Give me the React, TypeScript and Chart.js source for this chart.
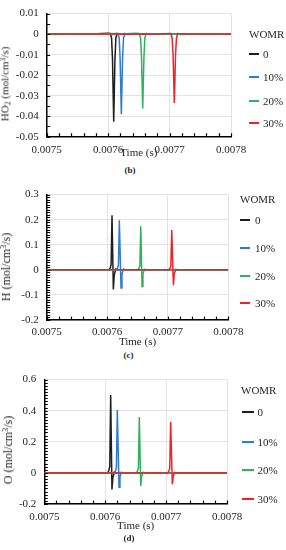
import React, { useEffect, useRef } from "react";
import { Chart, registerables } from "chart.js";

Chart.register(...registerables);

// ---------- data ----------
const SERIES_LABELS = ["0", "10%", "20%", "30%"];
const SERIES_COLORS = ["#1e1e1e", "#2f7bd0", "#2eb25b", "#ee2328"];

const X_TICKS = [0.0075, 0.0076, 0.0077, 0.0078];
const X_TICK_LABELS = ["0.0075", "0.0076", "0.0077", "0.0078"];

// (b) HO2
const HO2_TICKS = [0.01, 0, -0.01, -0.02, -0.03, -0.04, -0.05];
const HO2_TICK_LABELS = ["0.01", "0", "-0.01", "-0.02", "-0.03", "-0.04", "-0.05"];
const TIME_HO2_0 = [0.0075, 0.00757, 0.0076, 0.0076036, 0.0076056, 0.0076071, 0.0076091, 0.0076111, 0.0076126, 0.0076146, 0.007618, 0.0078];
const HO2_0 = [0, 0.0001, 0.0004, 0.0003, -0.002, -0.012, -0.0427, -0.012, -0.002, 0.0003, 0, 0];
const TIME_HO2_10 = [0.0075, 0.00759, 0.007614, 0.007616, 0.007618, 0.0076195, 0.0076215, 0.0076235, 0.007625, 0.007627, 0.00763, 0.0078];
const HO2_10 = [0, 0, 0.0003, 0.0003, -0.002, -0.012, -0.039, -0.012, -0.002, 0.0003, 0, 0];
const TIME_HO2_20 = [0.0075, 0.00762, 0.007645, 0.0076508, 0.0076528, 0.0076543, 0.0076563, 0.0076583, 0.0076598, 0.0076618, 0.007668, 0.0078];
const HO2_20 = [0, 0, 0.0004, 0.0003, -0.002, -0.011, -0.0363, -0.011, -0.002, 0.0004, 0, 0];
const TIME_HO2_30 = [0.0075, 0.00768, 0.0077, 0.0077022, 0.0077042, 0.0077057, 0.0077077, 0.0077097, 0.0077112, 0.0077132, 0.007716, 0.0078];
const HO2_30 = [0, 0, 0.0003, 0.0003, -0.002, -0.01, -0.0336, -0.01, -0.002, 0.0003, 0, 0];

// (c) H
const H_TICKS = [0.3, 0.2, 0.1, 0, -0.1, -0.2];
const H_TICK_LABELS = ["0.3", "0.2", "0.1", "0", "-0.1", "-0.2"];
const TIME_H_0 = [0.0075, 0.0076029, 0.0076049, 0.0076064, 0.0076079, 0.0076101, 0.0076116, 0.0076141, 0.0076171, 0.0078];
const H_0 = [0, 0, 0.008, 0.02, 0.218, -0.078, -0.02, 0.003, 0, 0];
const TIME_H_10 = [0.0075, 0.007615, 0.007617, 0.0076185, 0.00762, 0.0076228, 0.0076243, 0.0076268, 0.0076298, 0.0078];
const H_10 = [0, 0, 0.007, 0.018, 0.198, -0.072, -0.018, 0.003, 0, 0];
const TIME_H_20 = [0.0075, 0.0076504, 0.0076524, 0.0076539, 0.0076554, 0.0076575, 0.007659, 0.0076615, 0.0076645, 0.0078];
const H_20 = [0, 0, 0.006, 0.016, 0.174, -0.066, -0.016, 0.002, 0, 0];
const TIME_H_30 = [0.0075, 0.0077016, 0.0077036, 0.0077051, 0.0077066, 0.0077093, 0.0077108, 0.0077133, 0.0077163, 0.0078];
const H_30 = [0, 0, 0.006, 0.015, 0.159, -0.061, -0.015, 0.002, 0, 0];

// (d) O
const O_TICKS = [0.6, 0.4, 0.2, 0, -0.2];
const O_TICK_LABELS = ["0.6", "0.4", "0.2", "0", "-0.2"];
const TIME_O_0 = [0.0075, 0.007604, 0.007606, 0.0076075, 0.007609, 0.0076111, 0.0076126, 0.0076151, 0.0076181, 0.0078];
const O_0 = [0, 0, 0.015, 0.04, 0.501, -0.107, -0.03, 0.005, 0, 0];
const TIME_O_10 = [0.0075, 0.0076149, 0.0076169, 0.0076184, 0.0076199, 0.0076227, 0.0076242, 0.0076267, 0.0076297, 0.0078];
const O_10 = [0, 0, 0.013, 0.035, 0.405, -0.093, -0.026, 0.004, 0, 0];
const TIME_O_20 = [0.0075, 0.007651, 0.007653, 0.0076545, 0.007656, 0.0076583, 0.0076598, 0.0076623, 0.0076653, 0.0078];
const O_20 = [0, 0, 0.012, 0.032, 0.359, -0.083, -0.024, 0.004, 0, 0];
const TIME_O_30 = [0.0075, 0.0077025, 0.0077045, 0.007706, 0.0077075, 0.0077102, 0.0077117, 0.0077142, 0.0077172, 0.0078];
const O_30 = [0, 0, 0.011, 0.03, 0.328, -0.073, -0.022, 0.003, 0, 0];

// ---------- styling / layout ----------
const FONT = '"Liberation Serif", "Times New Roman", serif';
const TEXT = "#262626";

const SUB = { fontSize: "70%", verticalAlign: "-0.25em" };
const SUP = { fontSize: "70%", verticalAlign: "0.45em" };

const PANELS = [
  {
    key: "b",
    times: [TIME_HO2_0, TIME_HO2_10, TIME_HO2_20, TIME_HO2_30],
    values: [HO2_0, HO2_10, HO2_20, HO2_30],
    yTicks: HO2_TICKS, yLabels: HO2_TICK_LABELS, yMin: -0.05, yMax: 0.01, yStep: 0.005,
    yTitle: <>HO<sub style={SUB}>2</sub> (mol/cm<sup style={SUP}>3</sup>/s)</>,
    yTitleX: 6, yTitleY: 83.5, yTitleSize: 11,
    canvasTop: -1, canvasH: 161, xHeight: 23.3, yWidth: 46.7, padRight: 55, xTickPad: 6.5, xTitlePad: 0,
    caption: "(b)", capX: 130, capY: 170,
    legTitleX: 249, legTitleY: 34.3, lineX: 249, lineW: 10, textX: 263, itemYs: [54, 77, 101, 123],
  },
  {
    key: "c",
    times: [TIME_H_0, TIME_H_10, TIME_H_20, TIME_H_30],
    values: [H_0, H_10, H_20, H_30],
    yTicks: H_TICKS, yLabels: H_TICK_LABELS, yMin: -0.2, yMax: 0.3, yStep: 0.01,
    yTitle: <>H (mol/cm<sup style={SUP}>3</sup>/s)</>,
    yTitleX: 6, yTitleY: 266.5, yTitleSize: 12,
    canvasTop: 180, canvasH: 169, xHeight: 29, yWidth: 46.7, padRight: 57.7, xTickPad: 5.5, xTitlePad: 0,
    caption: "(c)", capX: 128.5, capY: 354.5,
    legTitleX: 240, legTitleY: 199.3, lineX: 240, lineW: 10, textX: 255, itemYs: [220, 248, 276, 303],
  },
  {
    key: "d",
    times: [TIME_O_0, TIME_O_10, TIME_O_20, TIME_O_30],
    values: [O_0, O_10, O_20, O_30],
    yTicks: O_TICKS, yLabels: O_TICK_LABELS, yMin: -0.2, yMax: 0.6, yStep: 0.02,
    yTitle: <>O (mol/cm<sup style={SUP}>3</sup>/s)</>,
    yTitleX: 8.3, yTitleY: 450, yTitleSize: 12,
    canvasTop: 365, canvasH: 168, xHeight: 29, yWidth: 44.3, padRight: 59, xTickPad: 6.5, xTitlePad: 0,
    caption: "(d)", capX: 129, capY: 538,
    legTitleX: 241, legTitleY: 390, lineX: 242, lineW: 12, textX: 257.5, itemYs: [412, 442, 470, 499],
  },
];

const findMajor = (v: number, majors: number[]) =>
  majors.findIndex((m) => Math.abs(m - v) < 1e-9);

// inward tick marks drawn at each scale tick
const innerTicks = {
  id: "innerTicks",
  afterDraw(chart: any) {
    const { ctx, chartArea } = chart;
    const xs = chart.scales.x;
    const ys = chart.scales.y;
    ctx.save();
    ctx.strokeStyle = "#000";
    ctx.lineWidth = 1.2;
    ctx.beginPath();
    xs.ticks.forEach((t: any) => {
      const px = Math.round(xs.getPixelForValue(t.value)) + 0.5;
      ctx.moveTo(px, chartArea.bottom);
      ctx.lineTo(px, chartArea.bottom - 3.5);
    });
    ys.ticks.forEach((t: any) => {
      const py = Math.round(ys.getPixelForValue(t.value)) + 0.5;
      ctx.moveTo(chartArea.left, py);
      ctx.lineTo(chartArea.left + 3.5, py);
    });
    ctx.stroke();
    ctx.restore();
  },
};

function Panel({ p }: { p: any }) {
  const ref = useRef<HTMLCanvasElement | null>(null);

  useEffect(() => {
    if (!ref.current) return;
    const datasets = SERIES_LABELS.map((label, i) => ({
      label,
      data: p.times[i].map((t: number, j: number) => ({ x: t, y: p.values[i][j] })),
      borderColor: SERIES_COLORS[i],
      backgroundColor: SERIES_COLORS[i],
      borderWidth: 1.5,
      pointRadius: 0,
      tension: 0,
      fill: false,
      order: SERIES_LABELS.length - 1 - i,
    }));
    const chart = new Chart(ref.current, {
      type: "line",
      data: { datasets },
      options: {
        responsive: false,
        animation: false,
        devicePixelRatio: 1,
        layout: { padding: { top: 0, right: p.padRight, bottom: 0, left: 0 } },
        plugins: { legend: { display: false }, tooltip: { enabled: false }, title: { display: false } },
        scales: {
          x: {
            type: "linear",
            min: X_TICKS[0],
            max: X_TICKS[X_TICKS.length - 1],
            afterFit: (s: any) => { s.height = p.xHeight; },
            ticks: {
              stepSize: 0.00002,
              autoSkip: false,
              maxRotation: 0,
              padding: p.xTickPad,
              color: TEXT,
              font: { family: FONT, size: 11 },
              callback: (v: any) => {
                const i = findMajor(Number(v), X_TICKS);
                return i >= 0 ? X_TICK_LABELS[i] : "";
              },
            },
            grid: {
              drawTicks: false,
              lineWidth: 1,
              color: (c: any) => (c.tick && findMajor(c.tick.value, X_TICKS) >= 0 ? "#e2e2e2" : "rgba(0,0,0,0)"),
            },
            border: { display: true, color: "#000", width: 1.5 },
            title: {
              display: true,
              text: "Time (s)",
              color: TEXT,
              font: { family: FONT, size: 11 },
              padding: { top: 0, bottom: p.xTitlePad },
            },
          },
          y: {
            type: "linear",
            min: p.yMin,
            max: p.yMax,
            afterFit: (s: any) => { s.width = p.yWidth; },
            ticks: {
              stepSize: p.yStep,
              autoSkip: false,
              padding: 8,
              color: TEXT,
              font: { family: FONT, size: 11 },
              callback: (v: any) => {
                const i = findMajor(Number(v), p.yTicks);
                return i >= 0 ? p.yLabels[i] : "";
              },
            },
            grid: {
              drawTicks: false,
              lineWidth: 1,
              color: (c: any) => (c.tick && findMajor(c.tick.value, p.yTicks) >= 0 ? "#e2e2e2" : "rgba(0,0,0,0)"),
            },
            border: { display: true, color: "#000", width: 1.5 },
          },
        },
      },
      plugins: [innerTicks],
    } as any);
    return () => chart.destroy();
  }, []);

  return (
    <>
      <canvas
        ref={ref}
        width={286}
        height={p.canvasH}
        style={{ position: "absolute", left: 0, top: p.canvasTop, width: 286, height: p.canvasH }}
      />
      <div
        style={{
          position: "absolute",
          left: p.yTitleX,
          top: p.yTitleY,
          transform: "translate(-50%, -50%) rotate(-90deg)",
          whiteSpace: "nowrap",
          fontSize: p.yTitleSize,
          lineHeight: 1,
          color: TEXT,
        }}
      >
        {p.yTitle}
      </div>
      <div
        style={{
          position: "absolute",
          left: p.legTitleX,
          top: p.legTitleY,
          transform: "translateY(-50%)",
          fontSize: 11,
          lineHeight: 1,
          color: TEXT,
          whiteSpace: "nowrap",
        }}
      >
        WOMR
      </div>
      {SERIES_LABELS.map((label, i) => (
        <React.Fragment key={label}>
          <div
            style={{
              position: "absolute",
              left: Math.round(p.lineX),
              top: p.itemYs[i] - 1,
              width: p.lineW,
              height: 2,
              backgroundColor: SERIES_COLORS[i],
            }}
          />
          <div
            style={{
              position: "absolute",
              left: p.textX,
              top: p.itemYs[i],
              transform: "translateY(-50%)",
              fontSize: 11,
              lineHeight: 1,
              color: TEXT,
              whiteSpace: "nowrap",
            }}
          >
            {label}
          </div>
        </React.Fragment>
      ))}
      <div
        style={{
          position: "absolute",
          left: p.capX,
          top: p.capY,
          transform: "translate(-50%, -50%)",
          fontSize: 9,
          fontWeight: "bold",
          lineHeight: 1,
          color: TEXT,
        }}
      >
        {p.caption}
      </div>
    </>
  );
}

export default function App() {
  return (
    <div
      style={{
        position: "absolute",
        left: 0,
        top: 0,
        width: 286,
        height: 550,
        background: "#fff",
        fontFamily: FONT,
        overflow: "hidden",
      }}
    >
      {PANELS.map((p) => (
        <Panel key={p.key} p={p} />
      ))}
    </div>
  );
}
